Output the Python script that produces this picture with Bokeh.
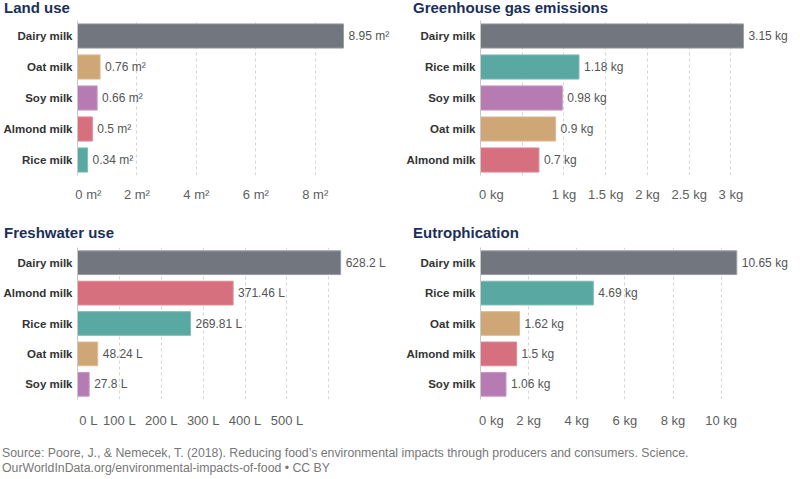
from bokeh.plotting import figure
from bokeh.models import FactorRange, Range1d, FixedTicker, Div, ColumnDataSource
from bokeh.layouts import column, row
from bokeh.embed import file_html
from bokeh.resources import INLINE
from bokeh.core.properties import value

# ---- data ----
land_cats = ["Dairy milk", "Oat milk", "Soy milk", "Almond milk", "Rice milk"]
land_vals = [8.95, 0.76, 0.66, 0.5, 0.34]
land_ticks = [0, 2, 4, 6, 8]

ghg_cats = ["Dairy milk", "Rice milk", "Soy milk", "Oat milk", "Almond milk"]
ghg_vals = [3.15, 1.18, 0.98, 0.9, 0.7]
ghg_ticks = [0, 0.5, 1, 1.5, 2, 2.5, 3]

water_cats = ["Dairy milk", "Almond milk", "Rice milk", "Oat milk", "Soy milk"]
water_vals = [628.2, 371.46, 269.81, 48.24, 27.8]
water_ticks = [0, 100, 200, 300, 400, 500, 600]

eutro_cats = ["Dairy milk", "Rice milk", "Oat milk", "Almond milk", "Soy milk"]
eutro_vals = [10.65, 4.69, 1.62, 1.5, 1.06]
eutro_ticks = [0, 2, 4, 6, 8, 10]

titles = ["Land use", "Greenhouse gas emissions", "Freshwater use", "Eutrophication"]
source_lines = [
    "Source: Poore, J., &amp; Nemecek, T. (2018). Reducing food’s environmental impacts "
    "through producers and consumers. Science.",
    "OurWorldInData.org/environmental-impacts-of-food • CC BY",
]

colors = {
    "Dairy milk": "#72767e",
    "Oat milk": "#cfa777",
    "Soy milk": "#b67bb3",
    "Almond milk": "#d6707f",
    "Rice milk": "#5aa8a2",
}
borders = {
    "Dairy milk": "#9a9da3",
    "Oat milk": "#dcbb94",
    "Soy milk": "#c596c3",
    "Almond milk": "#df8896",
    "Rice milk": "#7fbcb7",
}

FONT = "Liberation Sans"


def title_div(text, width, height, pad_left):
    return Div(text=text, width=width, height=height, margin=(0, 0, 0, 0),
               styles={"font-family": FONT, "font-size": "15px", "font-weight": "bold",
                       "color": "#1b2f5b", "line-height": "15px",
                       "padding-left": f"{pad_left}px", "white-space": "nowrap"})


def panel(cats, vals, ticks, unit, xmax, width, height, left, bottom,
          standoff, hidden=()):
    p = figure(width=width, height=height, output_backend="svg", toolbar_location=None,
               y_range=FactorRange(*list(reversed(cats))),
               x_range=Range1d(0, xmax),
               min_border_left=left, min_border_right=0,
               min_border_top=0, min_border_bottom=bottom)
    p.outline_line_color = None
    p.background_fill_color = "white"
    p.border_fill_color = "white"

    src = ColumnDataSource(dict(
        cat=cats, val=vals,
        fill=[colors[c] for c in cats],
        line=[borders[c] for c in cats],
        lab=[f"{v:g} {unit}" for v in vals],
    ))
    p.hbar(y="cat", right="val", left=0, height=0.78, source=src,
           fill_color="fill", line_color="line", line_width=1)
    p.text(x="val", y="cat", text="lab", source=src, x_offset=5,
           text_baseline="middle", text_align="left",
           text_font=value(FONT), text_font_size="12px", text_color="#555555")

    p.xaxis.ticker = FixedTicker(ticks=ticks)
    overrides = {}
    for t in ticks:
        lab = f"{t:g} {unit}"
        if t in hidden:
            lab = ""
        if t == 0:
            lab = "\u00a0" * 6 + lab
        overrides[t] = lab
    p.xaxis.major_label_overrides = overrides
    p.xaxis.axis_line_color = None
    p.xaxis.major_tick_line_color = None
    p.xaxis.minor_tick_line_color = None
    p.xaxis.major_tick_out = 0
    p.xaxis.major_tick_in = 0
    p.xaxis.major_label_text_font = FONT
    p.xaxis.major_label_text_font_size = "13px"
    p.xaxis.major_label_text_color = "#5e5e5e"
    p.xaxis.major_label_standoff = standoff

    p.yaxis.axis_line_color = "#c8c8c8"
    p.yaxis.major_tick_line_color = None
    p.yaxis.minor_tick_line_color = None
    p.yaxis.major_tick_out = 0
    p.yaxis.major_tick_in = 0
    p.yaxis.major_label_text_font = FONT
    p.yaxis.major_label_text_font_size = "11.5px"
    p.yaxis.major_label_text_font_style = "bold"
    p.yaxis.major_label_text_color = "#333333"
    p.yaxis.major_label_standoff = 5

    p.ygrid.grid_line_color = None
    p.xgrid.grid_line_color = "#d4d4d4"
    p.xgrid.grid_line_dash = "3 3"
    return p


LW, RW = 392, 396

t1 = title_div(titles[0], LW, 20, 4)
t2 = title_div(titles[1], RW, 20, 21)
p1 = panel(land_cats, land_vals, land_ticks, "m²", 10.6, LW, 205, 72, 50, 11)
p2 = panel(ghg_cats, ghg_vals, ghg_ticks, "kg", 3.69, RW, 205, 88, 50, 11, hidden=(0.5,))

t3 = title_div(titles[2], LW, 22, 4)
t4 = title_div(titles[3], RW, 22, 21)
p3 = panel(water_cats, water_vals, water_ticks, "L", 752, LW, 183, 72, 28, 13, hidden=(600,))
p4 = panel(eutro_cats, eutro_vals, eutro_ticks, "kg", 12.8, RW, 183, 88, 28, 13)

src_div = Div(
    text="<br>".join(source_lines),
    width=LW + RW, height=46, margin=(0, 0, 0, 0),
    styles={"font-family": FONT, "font-size": "12.3px", "color": "#777777",
            "line-height": "15px", "padding-top": "16px", "padding-left": "2px",
            "white-space": "nowrap"},
)

layout = column(
    row(t1, t2, spacing=0),
    row(p1, p2, spacing=0),
    row(t3, t4, spacing=0),
    row(p3, p4, spacing=0),
    src_div,
    spacing=0,
)

open("out.html", "w").write(file_html(layout, INLINE))
